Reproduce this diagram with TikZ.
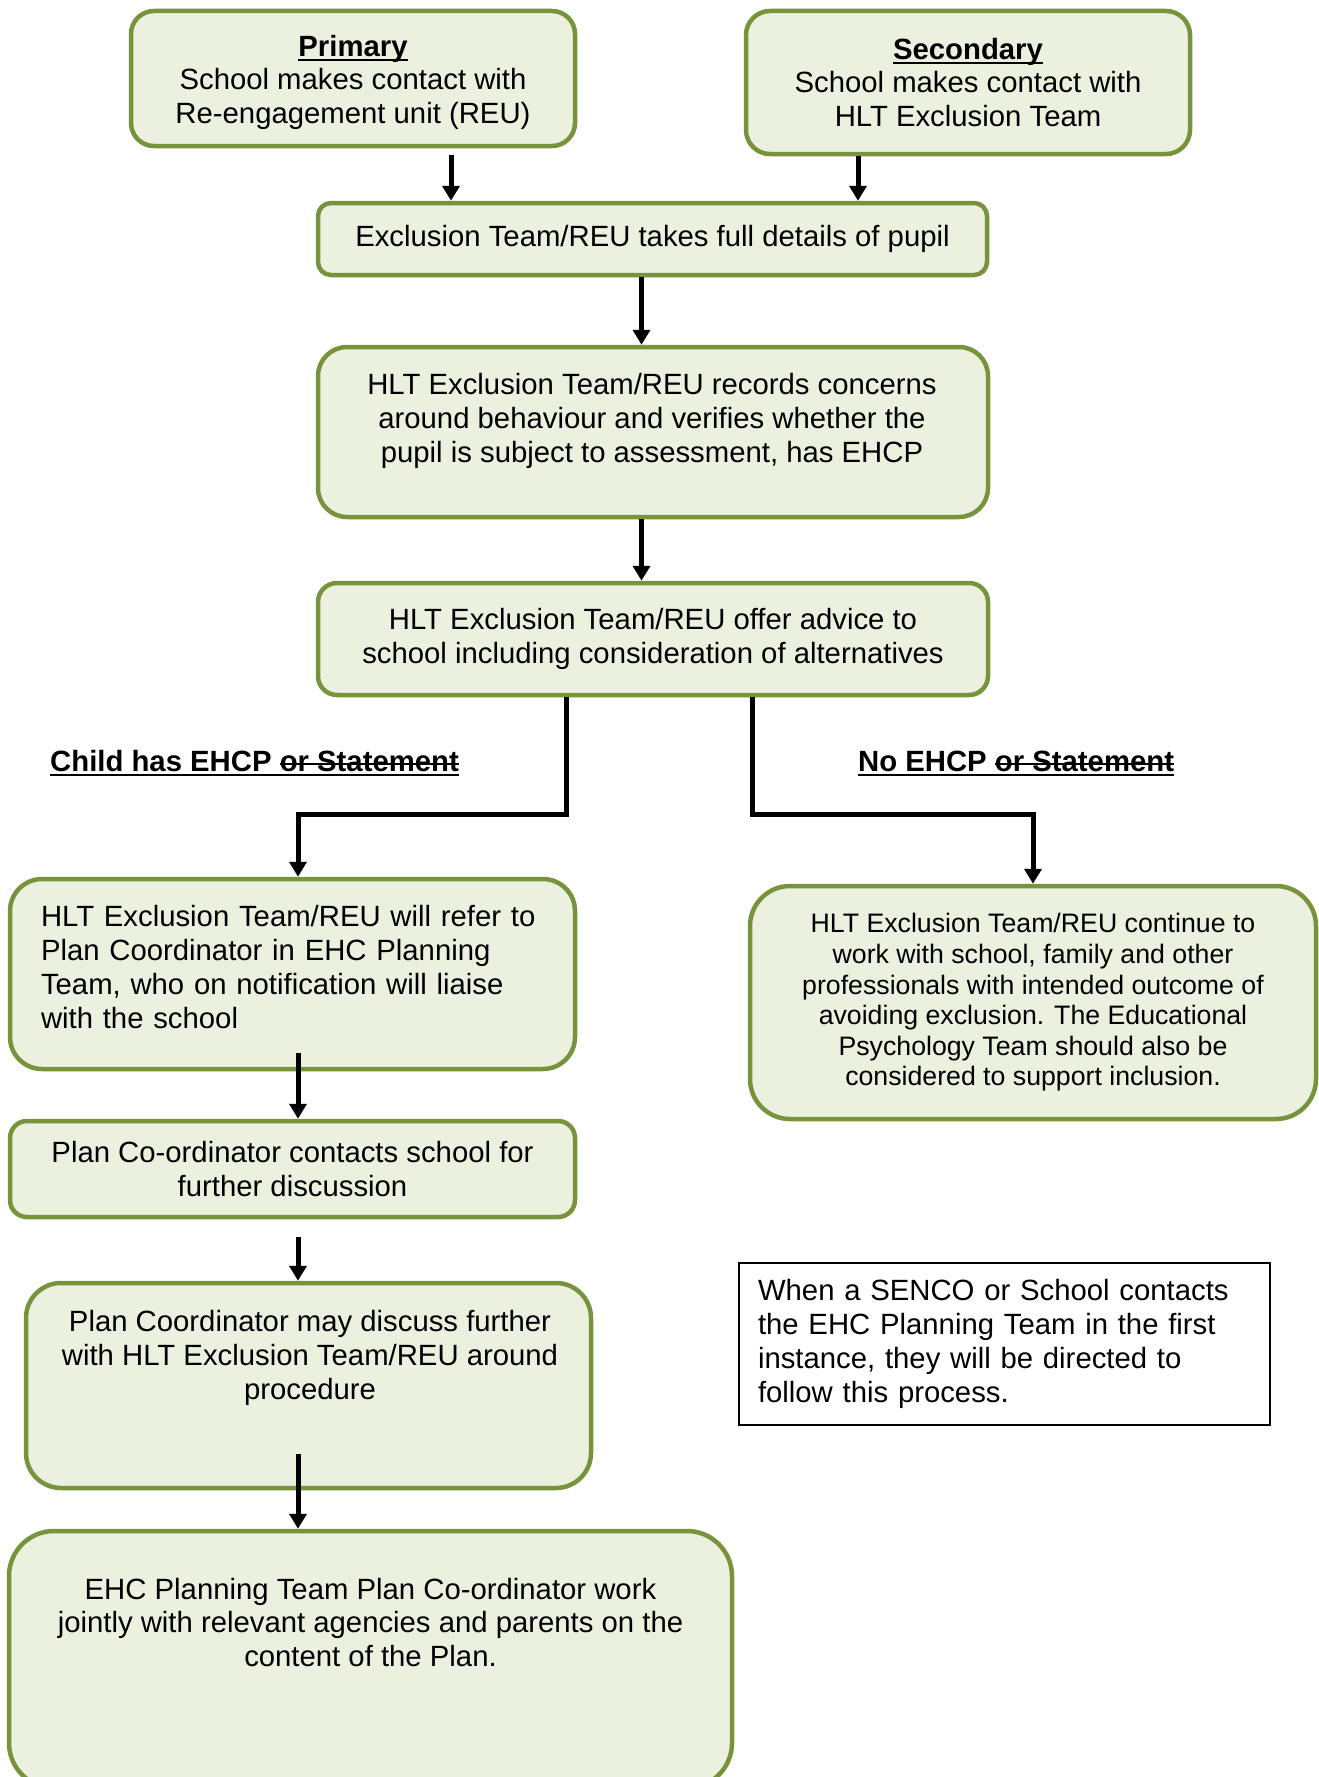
\documentclass[tikz,border=0pt]{standalone}
\usepackage{fontspec}
\setmainfont{Liberation Sans}
\usepackage{xcolor}
\usepackage{tikz}
\usetikzlibrary{arrows.meta,positioning,calc}

\definecolor{boxline}{HTML}{77933C}
\definecolor{boxfill}{HTML}{EBF1DE}

% underline and strike-through bars
\newcommand{\headline}[1]{\leavevmode\setbox0\hbox{#1}\rlap{\rule[-5pt]{\wd0}{2.5pt}}\box0}
\newcommand{\struck}[1]{\leavevmode\setbox0\hbox{#1}\rlap{\rule[6.5pt]{\wd0}{1.8pt}}\box0}

\begin{document}
\begin{tikzpicture}[
    x=1pt, y=-1pt,
    stage/.style={rectangle, draw=boxline, fill=boxfill, line width=4.5pt, align=center, inner sep=0pt, font=\fontsize{29.3pt}{33.8pt}\selectfont},
    plain/.style={align=center, inner sep=0pt, font=\fontsize{29.3pt}{33.8pt}\selectfont},
    branch/.style={inner sep=0pt, anchor=base west, font=\bfseries\fontsize{29.3pt}{33.8pt}\selectfont},
    note/.style={rectangle, draw=black, line width=2pt, align=left, text width=493pt, inner xsep=19pt, font=\fontsize{29.3pt}{33.8pt}\selectfont},
    arrow/.style={-{Triangle[length=15pt,width=17pt]}, line width=5pt}
]
\useasboundingbox (0,0) rectangle (1319,1777);

% top row
\node[stage, minimum width=444pt, minimum height=135pt, rounded corners=23pt] (prim) at (353,78.5)
    {\rule{0pt}{29pt}\textbf{\headline{Primary}}\\School makes contact with\\Re-engagement unit (REU)};
\node[stage, minimum width=444pt, minimum height=143pt, rounded corners=24pt] (sec) at (968,82.5)
    {\textbf{\headline{Secondary}}\\School makes contact with\\HLT Exclusion Team};

% main column
\node[stage, minimum width=669pt, minimum height=72pt, rounded corners=13pt] (excl) at (652.5,239)
    {Exclusion Team/REU takes full details of pupil};
\node[stage, minimum width=670pt, minimum height=170pt, rounded corners=29pt] (records) at (653,432) {};
\node[plain] (recordsText) at (652,421)
    {HLT Exclusion Team/REU records concerns\\around behaviour and verifies whether the\\pupil is subject to assessment, has EHCP};
\node[stage, minimum width=670pt, minimum height=112pt, rounded corners=19pt] (advice) at (653,639)
    {HLT Exclusion Team/REU offer advice to\\school including consideration of alternatives};

% branch labels
\node[branch] (ehcpYes) at (50,771) {\headline{Child has EHCP \struck{or Statement}}};
\node[branch] (ehcpNo) at (858,771) {\headline{No EHCP \struck{or Statement}}};

% EHCP branch
\node[stage, align=left, text width=503pt, minimum width=565pt, minimum height=190pt, rounded corners=32pt] (refer) at (292.5,974)
    {HLT Exclusion Team/REU will refer to\\Plan Coordinator in EHC Planning\\Team, who on notification will liaise\\with the school\rule[-14pt]{0pt}{14pt}};
\node[stage, minimum width=565pt, minimum height=96pt, rounded corners=17pt] (contact) at (292.5,1169)
    {Plan Co-ordinator contacts school for\\further discussion};
\node[stage, minimum width=565pt, minimum height=205pt, rounded corners=35pt] (discuss) at (308.5,1385.5) {};
\node[plain] (discussText) at (310,1358)
    {Plan Coordinator may discuss further\\with HLT Exclusion Team/REU around\\procedure};
\node[stage, minimum width=723pt, minimum height=257pt, rounded corners=45pt] (ehc) at (370.5,1659.5) {};
\node[plain] (ehcText) at (370.5,1622.5)
    {EHC Planning Team Plan Co-ordinator work\\jointly with relevant agencies and parents on the\\content of the Plan.};

% no EHCP branch
\node[stage, minimum width=566pt, minimum height=233pt, rounded corners=40pt, font=\fontsize{26.7pt}{30.6pt}\selectfont] (cont) at (1033,1002.5)
    {HLT Exclusion Team/REU continue to\\work with school, family and other\\professionals with intended outcome of\\avoiding exclusion. The Educational\\Psychology Team should also be\\considered to support inclusion.};

% note
\node[note, minimum height=162pt] (senco) at (1004.5,1344)
    {When a SENCO or School contacts\\the EHC Planning Team in the first\\instance, they will be directed to\\follow this process.};

% arrow lanes
\coordinate (laneP) at (451,0);
\coordinate (laneS) at (858,0);
\coordinate (laneM) at (641.5,0);
\coordinate (laneYes) at (566,0);
\coordinate (laneNo) at (752,0);
\coordinate (laneEHC) at (298,0);
\coordinate (turn) at (0,814);

% arrows
\draw[arrow] ($(prim.south -| laneP)+(0,7)$) -- (excl.north -| laneP);
\draw[arrow] (sec.south -| laneS) -- (excl.north -| laneS);
\draw[arrow] (excl.south -| laneM) -- (records.north -| laneM);
\draw[arrow] (records.south -| laneM) -- (advice.north -| laneM);
\draw[arrow] (advice.south -| laneYes) -- (turn -| laneYes) -| (refer.north -| laneEHC);
\draw[arrow] (advice.south -| laneNo) -- (turn -| laneNo) -| (cont.north);
\draw[arrow] ($(refer.south -| laneEHC)+(0,-18)$) -- (contact.north -| laneEHC);
\draw[arrow] ($(contact.south -| laneEHC)+(0,18)$) -- (discuss.north -| laneEHC);
\draw[arrow] ($(discuss.south -| laneEHC)+(0,-36)$) -- (ehc.north -| laneEHC);

\end{tikzpicture}
\end{document}
